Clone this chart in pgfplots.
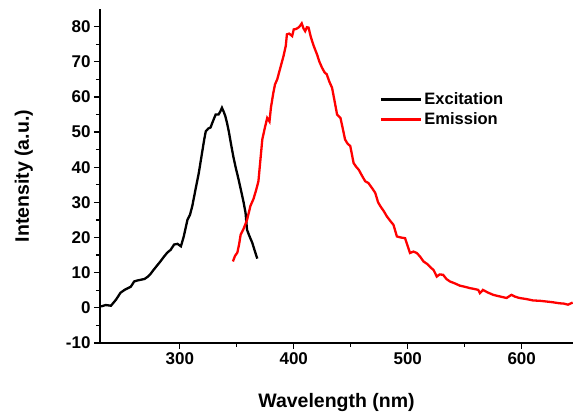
\documentclass[border=0pt]{standalone}
\usepackage{pgfplots}
\pgfplotsset{compat=1.18}
\usepackage{fontspec}
\setmainfont{Liberation Sans}
\begin{document}
\begin{tikzpicture}
\useasboundingbox (-100pt,-74pt) rectangle (474pt,343pt);
\begin{axis}[at={(0,0)}, anchor=south west, scale only axis,
  width=473pt, height=334pt,
  xmin=230, xmax=645, ymin=-10, ymax=85,
  axis lines*=left, axis line style={line width=1.4pt},
  tick align=outside, major tick length=6pt, minor tick length=4pt,
  every tick/.style={line width=1.3pt, black},
  xtick={300,400,500,600}, ytick={-10,0,...,80}, minor tick num=1,
  tick label style={font=\fontsize{17}{19}\selectfont\bfseries},
  /pgf/number format/assume math mode=true,
  xlabel={\fontsize{19.5}{22}\selectfont\bfseries Wavelength (nm)},
  ylabel={\fontsize{19.5}{22}\selectfont\bfseries Intensity (a.u.)},
  xlabel style={yshift=-22pt}, ylabel style={yshift=26pt},
  legend style={draw=none, fill=none, at={(0.59,0.755)}, anchor=north west,
    inner sep=0pt, font=\fontsize{16.5}{18}\selectfont\bfseries, row sep=2pt},
  legend cell align=left,
  legend image code/.code={\draw[#1, line width=3.2pt] (0pt,0pt) -- (40pt,0pt);},
]
\addplot[black, line width=2.3pt] coordinates {
(230.9,0.4)(235,0.8)(239.6,0.6)(244,2.3)(248,4.3)(252,5.2)(257,6)(260,7.5)(263,7.8)
(266,8)(269,8.2)(271.7,8.8)(274,9.5)(277,10.8)(280,12)(283,13.2)(286,14.5)(289,15.7)
(292,16.5)(295,18)(298,18.2)(301,17.5)(303.5,20.3)(305,22.5)(306.7,25)(309,26.5)
(311,29)(314,34)(316.7,38.4)(318.5,42)(320,45)(321.5,48)(322.8,50.2)(325,51)(327,51.3)
(329,53)(331.5,55)(334,55)(335.5,55.8)(337,56.9)(338.5,55.8)(340,54.5)(341.5,52.5)
(343,50.2)(345,46.5)(347,43)(349,40)(351.6,36.5)(354,33)(356,30)(357.7,27)(359,22.2)
(361,20.5)(363.6,18.5)(366,16)(368,14)};
\addlegendentry{Excitation}
\addplot[red, line width=2.3pt] coordinates {
(346.6,13.2)(348.5,14.8)(350.5,15.7)(352,18)(353.4,20.8)(356,22.5)(359,25)(362,29)
(364.7,31)(367,33.5)(369,36)(371,43)(372.4,47.9)(374.5,51)(376.7,54)(378.7,53)(380,57)
(382,61)(383.5,63.5)(385.5,65)(388,68)(391,71.6)(393,74.5)(394,77.8)(396,78)(398.6,77.3)
(400,79.2)(402,79.3)(404,79.7)(405.5,80.2)(407,80.9)(408.5,79.5)(410,78.7)(411.5,79.8)
(413,79.7)(415,77)(417.5,74.5)(420.5,72)(422.5,70)(424.8,68.3)(427,67)(429,66.4)
(431,64.5)(433.6,62.6)(436,58.5)(438,55)(441,54)(443,51)(445,47.9)(447,46.8)(449.6,46)
(452.5,41.2)(455,40)(457,39.3)(460,37.5)(462.7,36)(465.5,35.5)(468.6,34.1)(471.5,32.7)
(474,30)(476,28.9)(479,27.5)(481.7,26)(484.5,24.8)(487.5,23.6)(490.5,20.3)(494,20)
(497.7,19.8)(500,17.5)(502,15.6)(505,16)(508,15.6)(511,14.5)(513.8,13.2)(517,12.5)
(520,11.5)(522.6,10.8)(525.5,8.9)(528,9.5)(531,9.4)(534,8.2)(537,7.5)(541,7)(545.8,6.3)
(550,6)(554.6,5.6)(558,5.4)(561.9,5.1)(563.3,4.2)(566,5.1)(570,4.4)(575,3.7)(580,3.3)
(586.7,2.8)(591,3.7)(594,3.2)(598,2.8)(604,2.5)(610,2.1)(616,2)(621.7,1.8)(627,1.6)
(633,1.3)(637,1.2)(640.6,0.9)(644.7,1.5)};
\addlegendentry{Emission}
\end{axis}
\end{tikzpicture}
\end{document}
